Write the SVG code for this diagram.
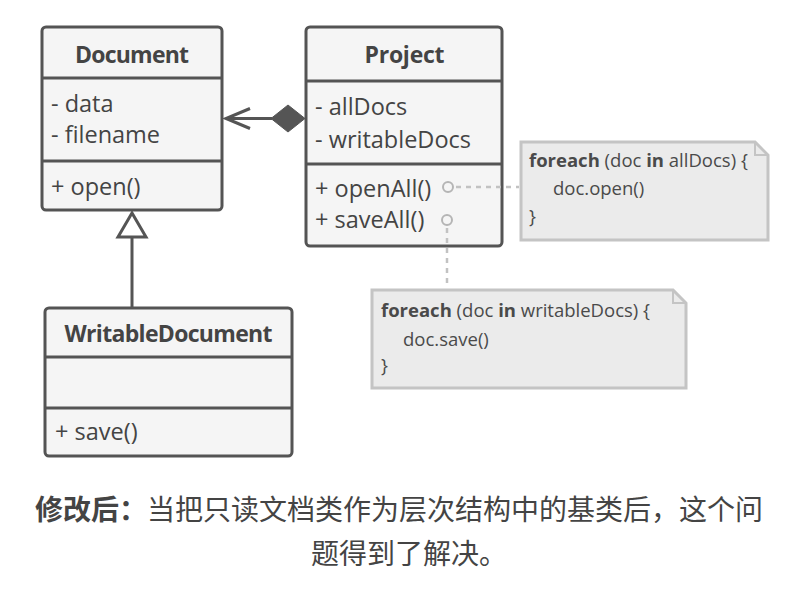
<svg xmlns="http://www.w3.org/2000/svg" width="808" height="595" viewBox="0 0 808 595">
<style>
.box{fill:#f5f5f5;stroke:#545454;stroke-width:3}
.div{stroke:#545454;stroke-width:3}
.title{font-family:"Open Sans","Noto Sans",sans-serif;font-weight:bold;font-size:23px;fill:#444;text-anchor:middle}
.mem{font-family:"Open Sans","Noto Sans",sans-serif;font-size:23.5px;fill:#444}
.note{fill:#ebebeb;stroke:#c4c4c4;stroke-width:3}
.nt{font-family:"Open Sans","Noto Sans",sans-serif;font-size:18.5px;fill:#4a4a4a}
.b{font-weight:bold}
.dash{stroke:#c2c2c2;stroke-width:2.5;stroke-dasharray:5 5;fill:none}
.dot{fill:none;stroke:#b5b5b5;stroke-width:2}
.line{stroke:#555;stroke-width:3;fill:none}
.cap{font-family:"Noto Sans CJK SC",sans-serif;font-size:28px;fill:#444}
</style>
<rect width="808" height="595" fill="#ffffff"/>
<g id="Document">
<rect class="box" x="42" y="27" width="180" height="183" rx="4"/>
<line class="div" x1="42" y1="78" x2="222" y2="78"/>
<line class="div" x1="42" y1="161" x2="222" y2="161"/>
<text class="title" x="132" y="63" textLength="114" lengthAdjust="spacing">Document</text>
<text class="mem" x="51" y="112">- data</text>
<text class="mem" x="51" y="143">- filename</text>
<text class="mem" x="51" y="195">+ open()</text>
</g>
<g id="Project">
<rect class="box" x="306" y="27" width="196" height="219" rx="4"/>
<line class="div" x1="306" y1="81" x2="502" y2="81"/>
<line class="div" x1="306" y1="164" x2="502" y2="164"/>
<text class="title" x="404.5" y="63" textLength="80" lengthAdjust="spacing">Project</text>
<text class="mem" x="315" y="115">- allDocs</text>
<text class="mem" x="315" y="148">- writableDocs</text>
<text class="mem" x="315" y="197">+ openAll()</text>
<text class="mem" x="315" y="228">+ saveAll()</text>
<circle class="dot" cx="448" cy="187" r="5"/>
<circle class="dot" cx="447" cy="220" r="5"/>
</g>
<g id="WritableDocument">
<rect class="box" x="45" y="308" width="247" height="148" rx="4"/>
<line class="div" x1="45" y1="357" x2="292" y2="357"/>
<line class="div" x1="45" y1="408" x2="292" y2="408"/>
<text class="title" x="168.5" y="342" textLength="208" lengthAdjust="spacing">WritableDocument</text>
<text class="mem" x="55" y="440">+ save()</text>
</g>
<g id="note1">
<polygon class="note" points="521,142 755,142 768,155 768,240 521,240"/>
<polyline points="755,142 755,155 768,155" fill="none" stroke="#c4c4c4" stroke-width="2"/>
<text class="nt" x="529" y="167"><tspan class="b">foreach</tspan> (doc <tspan class="b">in</tspan> allDocs) {</text>
<text class="nt" x="553" y="195">doc.open()</text>
<text class="nt" x="529" y="223">}</text>
</g>
<g id="note2">
<polygon class="note" points="372,290 673,290 686,303 686,388 372,388"/>
<polyline points="673,290 673,303 686,303" fill="none" stroke="#c4c4c4" stroke-width="2"/>
<text class="nt" x="381" y="317"><tspan class="b">foreach</tspan> (doc <tspan class="b">in</tspan> writableDocs) {</text>
<text class="nt" x="403" y="346">doc.save()</text>
<text class="nt" x="381" y="372">}</text>
</g>
<g id="connectors">
<line class="line" x1="227" y1="118.5" x2="272" y2="118.5"/>
<polyline class="line" points="250,108.5 226,118.5 250,128.5"/>
<polygon points="271,118.5 288,105 305,118.5 288,132" fill="#555" stroke="#555" stroke-width="1"/>
<line class="line" x1="132" y1="308" x2="132" y2="237"/>
<polygon points="132,213 118,237 146,237" fill="#ffffff" stroke="#555" stroke-width="3"/>
<line class="dash" x1="456" y1="187" x2="519" y2="187"/>
<line class="dash" x1="447" y1="228" x2="447" y2="288"/>
</g>
<g id="caption">
<text class="cap" x="35" y="520"><tspan font-weight="bold">修改后：</tspan>当把只读文档类作为层次结构中的基类后，这个问</text>
<text class="cap" x="311" y="564">题得到了解决。</text>
</g>
</svg>
